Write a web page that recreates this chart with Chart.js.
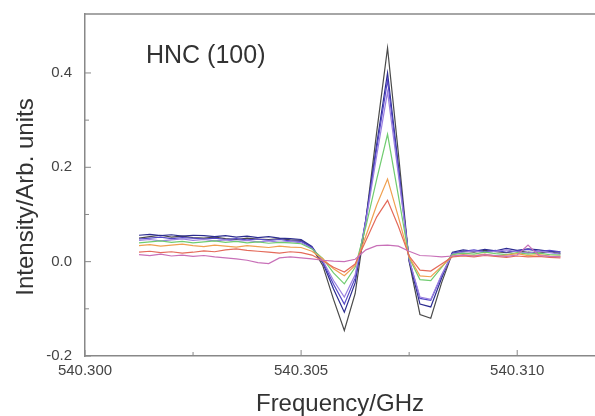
<!DOCTYPE html>
<html>
<head>
<meta charset="utf-8">
<script src="https://cdn.jsdelivr.net/npm/chart.js@4.4.1/dist/chart.umd.min.js"></script>
<style>
  html, body { margin: 0; padding: 0; background: #fff; }
</style>
</head>
<body>
<canvas id="hnc-spectrum" width="595" height="416"></canvas>
<script>
const canvasSpectrum = document.getElementById('hnc-spectrum');

// frequency grid, GHz
var freqs = [
  540.30125, 540.30150, 540.30175, 540.30200, 540.30225, 540.30250, 540.30275, 540.30300,
  540.30325, 540.30350, 540.30375, 540.30400, 540.30425, 540.30450, 540.30475, 540.30500,
  540.30525, 540.30550, 540.30575, 540.30600, 540.30625, 540.30650, 540.30675, 540.30700,
  540.30725, 540.30750, 540.30775, 540.30800, 540.30825, 540.30850, 540.30875, 540.30900,
  540.30925, 540.30950, 540.30975, 540.31000, 540.31025, 540.31050, 540.31075, 540.31100
];

// intensities, one trace per colour
var traceBlack = [
  0.050, 0.053, 0.056, 0.052, 0.054, 0.051, 0.050, 0.052, 0.049, 0.047, 0.050, 0.048, 0.047, 0.049, 0.046, 0.045,
  0.030, -0.008, -0.080, -0.146, -0.068, 0.090, 0.275, 0.453, 0.230, 0.000, -0.112, -0.120, -0.045, 0.018,
  0.022, 0.020, 0.024, 0.021, 0.019, 0.023, 0.020, 0.018, 0.021, 0.017
];
var traceNavy = [
  0.056, 0.058, 0.055, 0.057, 0.054, 0.056, 0.055, 0.053, 0.055, 0.052, 0.054, 0.051, 0.053, 0.050, 0.049, 0.047,
  0.032, -0.002, -0.058, -0.107, -0.045, 0.090, 0.250, 0.400, 0.205, 0.002, -0.090, -0.096, -0.035, 0.020,
  0.025, 0.022, 0.026, 0.023, 0.028, 0.024, 0.027, 0.025, 0.022, 0.020
];
var traceIndigo = [
  0.048, 0.050, 0.052, 0.049, 0.051, 0.050, 0.048, 0.050, 0.047, 0.049, 0.046, 0.048, 0.045, 0.047, 0.044, 0.043,
  0.030, 0.000, -0.048, -0.090, -0.035, 0.090, 0.240, 0.385, 0.195, 0.004, -0.078, -0.082, -0.030, 0.018,
  0.022, 0.025, 0.021, 0.024, 0.020, 0.023, 0.026, 0.022, 0.024, 0.021
];
var traceViolet = [
  0.045, 0.047, 0.044, 0.046, 0.048, 0.045, 0.047, 0.044, 0.046, 0.043, 0.045, 0.042, 0.044, 0.041, 0.043, 0.040,
  0.028, 0.003, -0.040, -0.075, -0.028, 0.085, 0.225, 0.360, 0.185, 0.005, -0.075, -0.080, -0.028, 0.016,
  0.020, 0.023, 0.019, 0.022, 0.025, 0.021, 0.018, 0.022, 0.019, 0.016
];
var traceGreen = [
  0.040, 0.042, 0.044, 0.041, 0.043, 0.040, 0.042, 0.044, 0.041, 0.043, 0.040, 0.042, 0.039, 0.041, 0.040, 0.038,
  0.027, 0.007, -0.024, -0.047, -0.012, 0.075, 0.175, 0.270, 0.140, 0.008, -0.038, -0.040, -0.012, 0.015,
  0.018, 0.016, 0.020, 0.017, 0.015, 0.019, 0.016, 0.018, 0.015, 0.014
];
var traceOrange = [
  0.034, 0.036, 0.033, 0.035, 0.037, 0.034, 0.032, 0.035, 0.033, 0.031, 0.034, 0.032, 0.030, 0.033, 0.031, 0.030,
  0.022, 0.006, -0.015, -0.030, -0.008, 0.055, 0.120, 0.175, 0.095, 0.010, -0.030, -0.032, -0.010, 0.012,
  0.015, 0.013, 0.016, 0.012, 0.014, 0.017, 0.013, 0.015, 0.012, 0.011
];
var traceRed = [
  0.020, 0.022, 0.019, 0.021, 0.018, 0.020, 0.023, 0.021, 0.025, 0.027, 0.024, 0.022, 0.020, 0.018, 0.021, 0.019,
  0.014, 0.002, -0.012, -0.022, -0.005, 0.045, 0.095, 0.130, 0.075, 0.012, -0.018, -0.020, -0.005, 0.010,
  0.012, 0.010, 0.013, 0.011, 0.009, 0.012, 0.010, 0.011, 0.009, 0.008
];
var tracePink = [
  0.015, 0.013, 0.016, 0.012, 0.014, 0.011, 0.013, 0.010, 0.008, 0.006, 0.003, -0.002, -0.004, 0.008, 0.010, 0.008,
  0.006, 0.003, 0.001, 0.000, 0.005, 0.025, 0.034, 0.035, 0.033, 0.022, 0.013, 0.012, 0.010, 0.012,
  0.014, 0.012, 0.015, 0.013, 0.011, 0.014, 0.035, 0.013, 0.011, 0.010
];

var traces = [traceBlack, traceNavy, traceIndigo, traceViolet, traceGreen, traceOrange, traceRed, tracePink];
var traceColors = ['#4a4a4a', '#2c2c90', '#5548c8', '#9a80e0', '#70cc70', '#f0a050', '#e46a5a', '#c870b8'];

// axis ticks
var xTicksMajor = [540.300, 540.305, 540.310];
var xTicksMinor = [540.3025, 540.3075];
var yTicksMajor = [-0.2, 0.0, 0.2, 0.4];
var yTicksMinor = [-0.1, 0.1, 0.3];

const fontFamily = '"Liberation Sans", Arial, sans-serif';

const frame = {
  id: 'frame',
  afterDraw(chart) {
    const ctx = chart.ctx;
    const a = chart.chartArea;
    const x = chart.scales.x, y = chart.scales.y;
    ctx.save();
    ctx.strokeStyle = '#888';
    ctx.lineWidth = 1.5;
    ctx.beginPath();
    ctx.moveTo(a.left, a.top);
    ctx.lineTo(a.right, a.top);
    ctx.stroke();

    // inward ticks
    ctx.lineWidth = 1;
    ctx.beginPath();
    xTicksMajor.forEach(v => { const px = x.getPixelForValue(v); ctx.moveTo(px, a.bottom); ctx.lineTo(px, a.bottom - 6); });
    xTicksMinor.forEach(v => { const px = x.getPixelForValue(v); ctx.moveTo(px, a.bottom); ctx.lineTo(px, a.bottom - 4); });
    yTicksMajor.forEach(v => { const py = y.getPixelForValue(v); ctx.moveTo(a.left, py); ctx.lineTo(a.left + 6, py); });
    yTicksMinor.forEach(v => { const py = y.getPixelForValue(v); ctx.moveTo(a.left, py); ctx.lineTo(a.left + 4, py); });
    ctx.stroke();

    ctx.fillStyle = '#333';
    ctx.font = '25px ' + fontFamily;
    ctx.textBaseline = 'middle';
    ctx.textAlign = 'left';
    ctx.fillText('HNC (100)', 146, 56);

    ctx.font = '24px ' + fontFamily;
    ctx.textAlign = 'center';
    ctx.translate(26, 197);
    ctx.rotate(-Math.PI / 2);
    ctx.fillText('Intensity/Arb. units', 0, 0);
    ctx.restore();
  }
};

new Chart(canvasSpectrum, {
  type: 'line',
  data: {
    datasets: traces.map((t, k) => ({
      data: freqs.map((f, i) => ({ x: f, y: t[i] })),
      borderColor: traceColors[k],
      borderWidth: 1.2,
      pointRadius: 0,
      tension: 0,
      fill: false
    })).reverse()
  },
  options: {
    responsive: false,
    animation: false,
    events: [],
    layout: { padding: { top: 14, right: 0, left: 0, bottom: 0 } },
    plugins: { legend: { display: false }, tooltip: { enabled: false } },
    scales: {
      x: {
        type: 'linear',
        min: 540.300,
        max: 540.3118,
        afterFit: s => { s.height = 60; s.paddingLeft = 0; s.paddingRight = 0; },
        afterBuildTicks: s => { s.ticks = xTicksMajor.map(v => ({ value: v })); },
        grid: { display: false, drawTicks: false },
        border: { display: true, color: '#888', width: 1.5 },
        ticks: {
          padding: 6,
          color: '#444',
          font: { family: fontFamily, size: 15 },
          callback: v => v.toFixed(3)
        },
        title: {
          display: true,
          text: 'Frequency/GHz',
          color: '#333',
          font: { family: fontFamily, size: 24, lineHeight: 1.0 },
          padding: { top: 0, bottom: 0 }
        }
      },
      y: {
        min: -0.2,
        max: 0.525,
        afterFit: s => { s.width = 85; s.paddingTop = 0; s.paddingBottom = 0; },
        afterBuildTicks: s => { s.ticks = yTicksMajor.map(v => ({ value: v })); },
        grid: { display: false, drawTicks: false },
        border: { display: true, color: '#888', width: 1.5 },
        ticks: {
          padding: 13,
          color: '#444',
          font: { family: fontFamily, size: 15 },
          callback: v => v.toFixed(1)
        }
      }
    }
  },
  plugins: [frame]
});
</script>
</body>
</html>
